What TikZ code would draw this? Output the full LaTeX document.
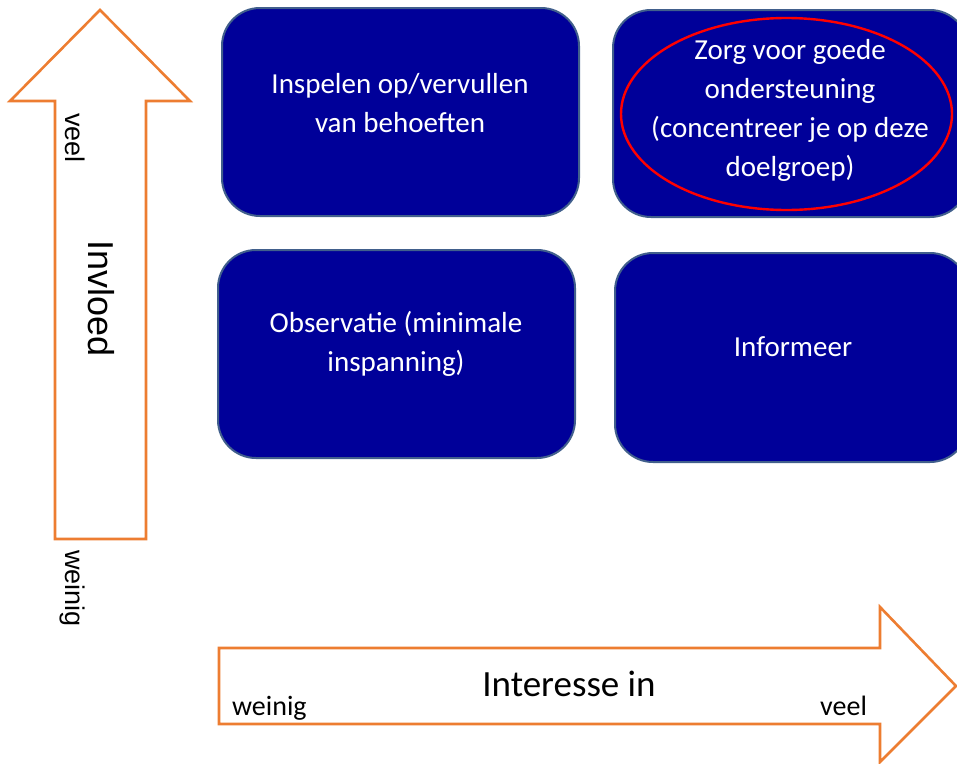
\documentclass[tikz,border=0pt]{standalone}
\usepackage{fontspec}
\setmainfont{Carlito}
\newfontfamily\arialf{Liberation Sans}
\definecolor{boxfill}{RGB}{0,0,153}
\definecolor{boxline}{RGB}{65,95,140}
\definecolor{orangeline}{RGB}{237,125,49}
\begin{document}
\begin{tikzpicture}[x=1pt,y=-1pt,
  quad/.style={draw=boxline,line width=2pt,fill=boxfill,rounded corners=38pt},
  qtext/.style={text=white,align=center,inner sep=0pt,font=\fontsize{29}{39}\selectfont},
  arrowshape/.style={draw=orangeline,line width=2.6pt,fill=white,line join=miter},
  vlabel/.style={inner sep=0pt,rotate=-90,font=\arialf\fontsize{27}{32}\selectfont},
  hlabel/.style={inner sep=0pt,font=\fontsize{28}{32}\selectfont}
]
\useasboundingbox (0,0) rectangle (957,763);
\begin{scope}
\clip (0,0) rectangle (957,763);
% vertical arrow
\draw[arrowshape] (100,10) -- (190,101) -- (146,101) -- (146,539) -- (55,539) -- (55,101) -- (10,101) -- cycle;
% horizontal arrow
\draw[arrowshape] (219,648) -- (880,648) -- (880,607) -- (956,686) -- (880,762) -- (880,724) -- (219,724) -- cycle;
% boxes
\draw[quad] (222,8) rectangle (579,216);
\draw[quad] (613,10) rectangle (968,217);
\draw[quad] (218,250) rectangle (575,458);
\draw[quad] (615,253) rectangle (968,462);
\end{scope}
\node[qtext] (t1) at (400,103) {Inspelen op/vervullen\\van behoeften};
\node[qtext] (t2) at (790,110) {Zorg voor goede\\ondersteuning\\(concentreer je op deze\\doelgroep)};
\node[qtext] (t3) at (396,344) {Observatie (minimale\\inspanning)};
\node[qtext] (t4) at (793,347) {Informeer};
\draw[red,line width=2.4pt] (786.5,114) ellipse [x radius=165.5, y radius=96];
% axis labels
\node[vlabel,anchor=base west] (vveel) at (65,113) {veel};
\node[vlabel,anchor=base west] (vweinig) at (65,550) {weinig};
\node[inner sep=0pt,rotate=-90,anchor=base west,font=\arialf\fontsize{36}{40}\selectfont] (invloed) at (88,240) {Invloed};
\node[hlabel,anchor=base west] (hweinig) at (232,715) {weinig};
\node[hlabel,anchor=base west] (hveel) at (820,715) {veel};
\node[inner sep=0pt,anchor=base,font=\fontsize{37}{40}\selectfont] (interesse) at (569,696) {Interesse in};
\end{tikzpicture}
\end{document}
